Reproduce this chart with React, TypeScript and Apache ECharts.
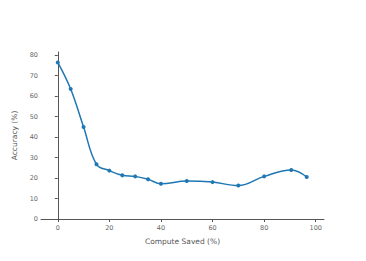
import React, { useEffect, useRef } from "react";
import * as echarts from "echarts";

const computeSaved = [0, 5, 10, 15, 20, 25, 30, 35, 40, 50, 60, 70, 80, 90.5, 96.5];
const accuracy = [76.4, 63.4, 44.9, 26.7, 23.6, 21.3, 20.8, 19.4, 17.2, 18.5, 18.0, 16.3, 20.8, 23.9, 20.5];
const xTicks = [0, 20, 40, 60, 80, 100];
const yTicks = [0, 10, 20, 30, 40, 50, 60, 70, 80];

export default function App() {
  const ref = useRef<HTMLDivElement>(null);
  useEffect(() => {
    if (!ref.current) return;
    const chart = echarts.init(ref.current, undefined, { renderer: "svg" });
    const font = "'DejaVu Sans', Verdana, sans-serif";
    chart.setOption({
      animation: false,
      backgroundColor: "#fff",
      grid: { left: 41, right: 42, top: 52, bottom: 42, containLabel: false },
      xAxis: {
        type: "value",
        min: -6.5,
        max: 103.2,
        name: "Compute Saved (%)",
        nameLocation: "middle",
        nameGap: 18,
        nameTextStyle: { fontSize: 7.5, color: "#555", fontFamily: font },
        axisLine: { show: true, lineStyle: { color: "#555", width: 1 } },
        axisTick: { show: true, customValues: xTicks, length: 3, lineStyle: { color: "#555" } },
        axisLabel: { customValues: xTicks, fontSize: 6.5, color: "#666", margin: 5, fontFamily: font },
        splitLine: { show: false },
      },
      yAxis: {
        type: "value",
        min: 0,
        max: 81.5,
        name: "Accuracy (%)",
        nameLocation: "middle",
        nameGap: 15,
        nameTextStyle: { fontSize: 7.5, color: "#555", fontFamily: font },
        axisLine: { show: true, lineStyle: { color: "#555", width: 1 } },
        axisTick: { show: true, customValues: yTicks, length: 3, lineStyle: { color: "#555" } },
        axisLabel: { customValues: yTicks, fontSize: 6.5, color: "#666", margin: 3, fontFamily: font },
        splitLine: { show: false },
      },
      series: [
        {
          type: "line",
          data: computeSaved.map((x, i) => [x, accuracy[i]]),
          smooth: 0.4,
          symbol: "circle",
          symbolSize: 4,
          lineStyle: { color: "#1f77b4", width: 1.5 },
          itemStyle: { color: "#1f77b4" },
        },
      ],
    });
    return () => chart.dispose();
  }, []);
  return <div ref={ref} style={{ width: 366, height: 261, position: "absolute", left: 0, top: 0 }} />;
}
